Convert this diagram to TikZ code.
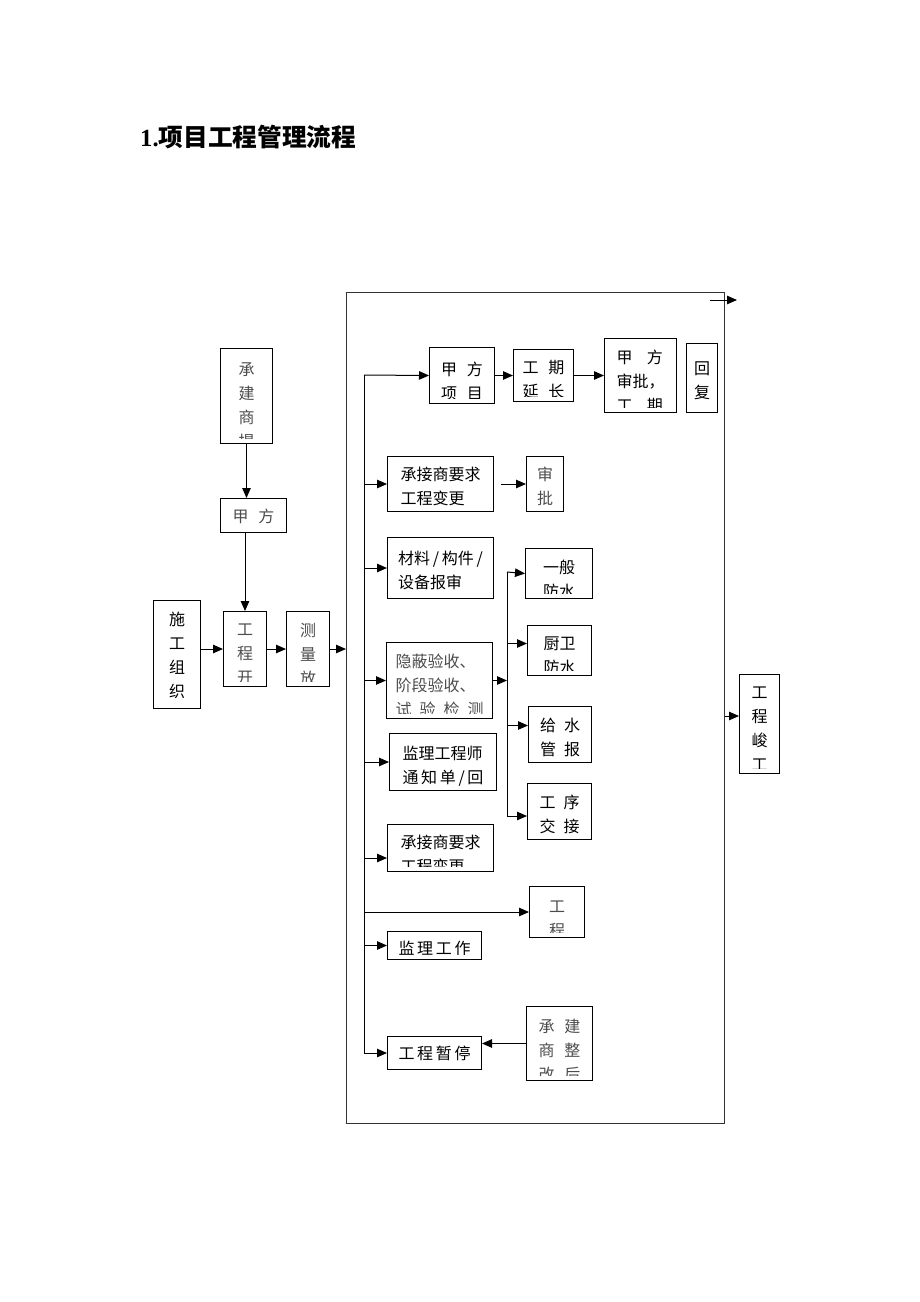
\documentclass[tikz,border=0pt]{standalone}
\usepackage{fontspec}
\setmainfont{Liberation Serif}
\newfontfamily\cjk{Noto Sans CJK SC}
\usetikzlibrary{arrows.meta}
\newcommand\kg{\hspace{0.6em}}
\newcommand\kgg{\hspace{0.9em}}
\newcommand\kgs{\hspace{0.5em}}

\tikzset{
  >={Triangle[length=10pt,width=8.5pt]},
  line/.style={line width=1pt},
  box/.style={draw, line width=1pt, anchor=north west, inner sep=0pt},
  tx/.style={anchor=north, inner sep=0pt, align=left, font=\cjk\fontsize{16}{24}\selectfont},
  % text clipped a little inside the box bottom
  txt/.style 2 args={path picture={
    \node[tx] at ([yshift=-#1pt]path picture bounding box.north) {#2};
    \fill[white] (path picture bounding box.south west) rectangle ([yshift=4.5pt]path picture bounding box.south east);}},
  txtg/.style 2 args={path picture={
    \node[tx, text=black!70] at ([yshift=-#1pt]path picture bounding box.north) {#2};
    \fill[white] (path picture bounding box.south west) rectangle ([yshift=4.5pt]path picture bounding box.south east);}},
}

\begin{document}
\begin{tikzpicture}[x=1pt, y=-1pt]
  \useasboundingbox (0,0) rectangle (920,1302);

  \node[anchor=base west, inner sep=0pt, font=\fontsize{24.7}{28}\selectfont\bfseries] (title) at (140,146) {1.{\cjk 项目工程管理流程}};

  % left column
  \node[box, minimum width=52, minimum height=95, txtg={9}{承\\建\\商\\提}] (cjs) at (220,348) {};
  \node[box, minimum width=66, minimum height=34, txtg={0}{甲\kg 方}] (jfl) at (220,498) {};
  \node[box, minimum width=47, minimum height=108, txt={0}{施\\工\\组\\织}] (sgzz) at (153,600) {};
  \node[box, minimum width=43, minimum height=75, txtg={12}{工\\程\\开\\工}] (gck) at (223,611) {};
  \node[box, minimum width=43, minimum height=75, txtg={11}{测\\量\\放\\线}] (clf) at (286,611) {};

  % frame
  \node[box, draw=black!80, minimum width=378, minimum height=831] (frame) at (346,292) {};

  % top row
  \node[box, minimum width=65, minimum height=56, txt={5}{甲\kg 方\\项\kg 目}] (xmfx) at (429,347) {};
  \node[box, minimum width=60, minimum height=52, txt={4}{工\kg 期\\延\kg 长}] (gqyc) at (513,349) {};
  \node[box, minimum width=72, minimum height=74, txt={5}{甲\kgg 方\\审批，\\工\kgg 期}] (jfsp) at (604,338) {};
  \node[box, minimum width=31, minimum height=69, txt={2}{回\\复}] (hf) at (686,343) {};

  % branches
  \node[box, minimum width=106, minimum height=55, txt={2}{承接商要求\\工程变更}] (bg1) at (387,456) {};
  \node[box, minimum width=37, minimum height=55, txtg={2}{审\\批}] (sp) at (526,456) {};
  \node[box, minimum width=106, minimum height=61, txt={2}{材料\,/\,构件\,/\\设备报审}] (cl) at (387,537) {};
  \node[box, minimum width=106, minimum height=76, txtg={4}{隐蔽验收、\\阶段验收、\\试\kgs 验\kgs 检\kgs 测}] (yb) at (386,642) {};
  \node[box, minimum width=107, minimum height=57, txt={4}{监理工程师\\通\,知\,单\,/\,回}] (tz) at (389,733) {};
  \node[box, minimum width=106, minimum height=47, txt={6}{承接商要求\\工程变更}] (bg2) at (387,824) {};
  \node[box, minimum width=55, minimum height=51, txtg={7}{工\\程}] (gc) at (529,886) {};
  \node[box, minimum width=94, minimum height=28, txt={2}{监\,理\,工\,作}] (jlgz) at (387,931) {};
  \node[box, minimum width=94, minimum height=33, txt={0}{工\,程\,暂\,停}] (zt) at (387,1036) {};
  \node[box, minimum width=66, minimum height=74, txtg={6}{承\kg 建\\商\kg 整\\改\kg 后}] (zg) at (526,1006) {};

  % sub branches
  \node[box, minimum width=67, minimum height=50, txt={5}{一般\\防水}] (yf) at (525,548) {};
  \node[box, minimum width=64, minimum height=50, txt={5}{厨卫\\防水}] (cw) at (527,625) {};
  \node[box, minimum width=63, minimum height=56, txt={2}{给\kgs 水\\管\kgs 报}] (gs) at (528,706) {};
  \node[box, minimum width=64, minimum height=56, txt={2}{工\kgs 序\\交\kgs 接}] (gx) at (527,783) {};

  \node[box, minimum width=40, minimum height=99, txt={4}{工\\程\\峻\\工}] (jg) at (739,674) {};

  \coordinate (tt) at (364,375);
  \coordinate (tb) at (364,1053);
  \coordinate (st) at (507,572);
  \coordinate (sb) at (507,816);
  \coordinate (ne1) at (710,300);
  \coordinate (ne2) at (737,300);
  \coordinate (bg2in) at ([yshift=-10pt]bg2.west);
  \coordinate (cwin) at ([yshift=7pt]cw.west);
  \coordinate (gsin) at ([yshift=9pt]gs.west);
  \coordinate (jgin) at ([yshift=8pt]jg.west);

  % connectors
  \draw[line,->] (cjs.south) -- (cjs.south |- jfl.north);
  \draw[line,->] (gck.north |- jfl.south) -- (gck.north);
  \draw[line,->] (sgzz.east |- gck.west) -- (gck.west);
  \draw[line,->] (gck.east) -- (clf.west);
  \draw[line,->] (clf.east) -- (frame.west |- clf.east);

  \draw[line] (tt) -- (tb);
  \draw[line,->] (tt) -- (xmfx.west);
  \draw[line,->] (xmfx.east) -- (gqyc.west);
  \draw[line,->] (gqyc.east) -- (jfsp.west);
  \draw[line,->] (tt |- bg1.west) -- (bg1.west);
  \draw[line,->] ([xshift=7pt]bg1.east) -- (sp.west);
  \draw[line,->] (tt |- cl.west) -- (cl.west);
  \draw[line,->] (tt |- yb.west) -- (yb.west);
  \draw[line,->] (tt |- tz.west) -- (tz.west);
  \draw[line,->] (tt |- bg2in) -- (bg2in);
  \draw[line,->] (tt |- gc.west) -- (gc.west);
  \draw[line,->] (tt |- jlgz.west) -- (jlgz.west);
  \draw[line,->] (tb) -- (zt.west);
  \draw[line,->] (zg.west) -- (zt.east |- zg.west);

  \draw[line] (st) -- (sb);
  \draw[line,->] (yb.east) -- (st |- yb.east);
  \draw[line,->] (st) -- (yf.west);
  \draw[line,->] (st |- cwin) -- (cwin);
  \draw[line,->] (st |- gsin) -- (gsin);
  \draw[line,->] (sb) -- (sb -| gx.west);

  \draw[line,->] (frame.east |- jgin) -- (jgin);
  \draw[line,->] (ne1) -- (ne2);
\end{tikzpicture}
\end{document}
